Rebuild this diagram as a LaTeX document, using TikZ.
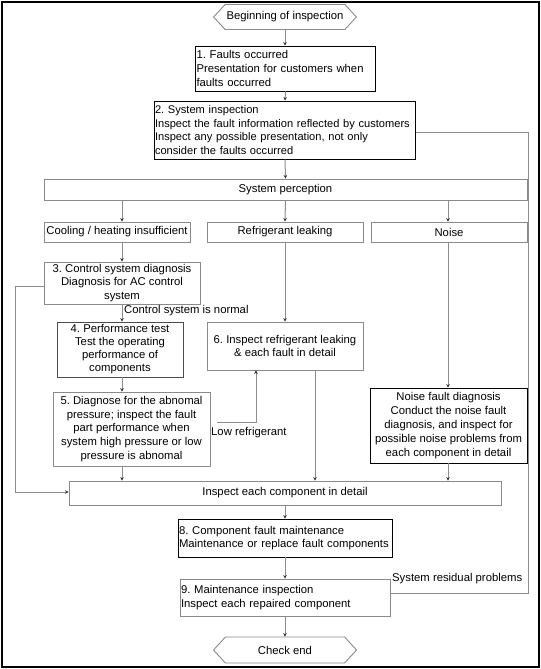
\documentclass[tikz,border=0pt]{standalone}
\usepackage{fontspec}
\setmainfont{Liberation Sans}
\usetikzlibrary{shapes.symbols,arrows.meta}
\frenchspacing
\definecolor{boxgray}{HTML}{8A8A8A}
\definecolor{linegray}{HTML}{8C8C8C}
\definecolor{tipcol}{HTML}{303030}
\tikzset{
  base/.style={draw, inner sep=1.5bp, font=\fontsize{11.3bp}{13.8bp}\selectfont, line width=0.9bp},
  graybox/.style={base, draw=boxgray},
  blackbox/.style={base, draw=black},
  lbox/.style={align=left, inner xsep=1bp},
  cbox/.style={align=center},
  term/.style={base, draw=boxgray, signal, signal to=west and east, signal pointer angle=95},
  conn/.style={draw=linegray, line width=1bp},
  arr/.style={conn, -{Stealth[length=3.5bp,width=3.5bp,color=tipcol]}},
  lbl/.style={font=\fontsize{11.3bp}{13.8bp}\selectfont, inner sep=0pt, anchor=west}
}
\begin{document}
\begin{tikzpicture}[x=1bp,y=-1bp]
\useasboundingbox (0,0) rectangle (541,669);
\draw[line width=1.8bp] (2,2) rectangle (539,667);

\node[term, minimum width=142bp, minimum height=25bp] (start) at (285,17) {Beginning of inspection};
\node[blackbox, lbox, text width=178bp, minimum height=45bp] (b1) at (285.5,68.5)
  {1. Faults occurred\\Presentation for customers when\\faults occurred};
\node[blackbox, lbox, inner xsep=0.5bp, text width=260bp, minimum height=58bp,
      font=\fontsize{11.1bp}{13.8bp}\selectfont] (b2) at (285,130)
  {2. System inspection\\\mbox{Inspect the fault information reflected by customers}\\Inspect any possible presentation, not only\\consider the faults occurred};
\node[graybox, minimum width=483bp, minimum height=21bp] (perc) at (285.5,189.5) {System perception};
\node[graybox, minimum width=146bp, minimum height=20bp] (cool) at (117,232) {Cooling / heating insufficient};
\node[graybox, minimum width=156bp, minimum height=20bp] (refr) at (285,232) {Refrigerant leaking};
\node[graybox, minimum width=156bp, minimum height=20bp] (noise) at (449,232) {Noise};
\node[graybox, cbox, minimum width=156bp, minimum height=42bp] (b3) at (122,283)
  {3. Control system diagnosis\\Diagnosis for AC control\\system};
\node[base, draw=black!70, cbox, minimum width=126bp, minimum height=55bp,
      font=\fontsize{11.3bp}{13bp}\selectfont] (b4) at (120,349.5)
  {4. Performance test\\Test the operating\\performance of\\components};
\node[graybox, cbox, minimum width=156bp, minimum height=48bp] (b6) at (285,346)
  {6. Inspect refrigerant leaking\\\& each fault in detail};
\node[graybox, cbox, minimum width=157bp, minimum height=74bp] (b5) at (131.5,429)
  {5. Diagnose for the abnomal\\pressure; inspect the fault\\part performance when\\system high pressure or low\\pressure is abnomal};
\node[blackbox, cbox, minimum width=157bp, minimum height=75bp] (nf) at (448.5,425.5)
  {Noise fault diagnosis\\Conduct the noise fault\\diagnosis, and inspect for\\possible noise problems from\\each component in detail};
\node[graybox, minimum width=432bp, minimum height=24bp] (insp) at (285,493) {Inspect each component in detail};
\node[blackbox, lbox, text width=212bp, minimum height=38bp] (b8) at (285,538)
  {8. Component fault maintenance\\\mbox{Maintenance or replace fault components}};
\node[graybox, lbox, text width=208bp, minimum height=37bp] (b9) at (285,597.5)
  {9. Maintenance inspection\\Inspect each repaired component};
\node[term, minimum width=143bp, minimum height=26bp] (end) at (285,650) {Check end};

% column coordinates
\coordinate (cx1) at (122,0);
\coordinate (cx3) at (448,0);
\coordinate (cx6) at (315,0);
\coordinate (lrx) at (256,0);
\coordinate (lr) at (217,422);
\coordinate (lft) at (15,0);
\coordinate (rgt) at (528,0);
\coordinate (fbt) at (0,286);
\coordinate (fbb) at (0,492);
\coordinate (rtop) at (0,132);
\coordinate (rbot) at (0,593);

\draw[arr] (start.south) -- (b1.north -| start.south);
\draw[arr] (b1.south) -- (b2.north);
\draw[arr] (b2.south) -- (perc.north);
\draw[arr] (perc.south -| cx1) -- (cool.north -| cx1);
\draw[arr] (perc.south) -- (refr.north);
\draw[arr] (perc.south -| cx3) -- (noise.north -| cx3);
\draw[arr] (cool.south -| cx1) -- (b3.north -| cx1);
\draw[arr] (b3.south -| cx1) -- (b4.north -| cx1);
\draw[arr] (refr.south) -- (b6.north);
\draw[arr] (b4.south -| cx1) -- (b5.north -| cx1);
\draw[arr] (b5.south -| cx1) -- (insp.north -| cx1);
\draw[arr] (b6.south -| cx6) -- (insp.north -| cx6);
\draw[arr] (noise.south -| cx3) -- (nf.north -| cx3);
\draw[arr] (nf.south -| cx3) -- (insp.north -| cx3);
\draw[arr] (b3.west |- fbt) -- (lft |- fbt) -- (lft |- fbb) -- (insp.west |- fbb);
\draw[arr] (lr) -| (b6.south -| lrx);
\draw[arr] (insp.south) -- (b8.north);
\draw[arr] (b8.south) -- (b9.north);
\draw[arr] (b9.south) -- (end.north);
\draw[conn] (b9.east |- rbot) -- (rgt |- rbot) -- (rgt |- rtop) -- (b2.east |- rtop);

\node[lbl] (lcsn) at (124,311) {Control system is normal};
\node[lbl] (llr) at (211,433) {Low refrigerant};
\node[lbl] (lsrp) at (392,579) {System residual problems};
\end{tikzpicture}
\end{document}
